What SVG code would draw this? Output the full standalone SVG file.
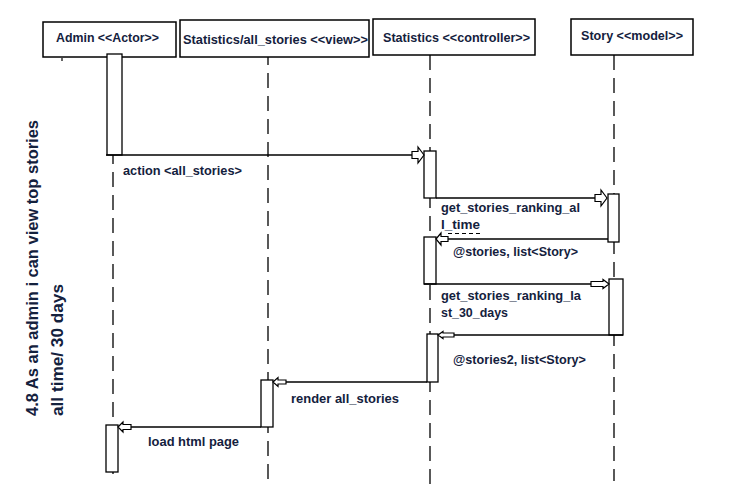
<svg xmlns="http://www.w3.org/2000/svg" width="755" height="501" viewBox="0 0 755 501">
<style>
.box{fill:#fff;stroke:#000;stroke-width:1.5}
.act{fill:#fff;stroke:#000;stroke-width:1.3}
.life{stroke:#000;stroke-width:1.3;stroke-dasharray:15 8;fill:none}
.msg{stroke:#000;stroke-width:1.3;fill:none}
.ah{fill:#fff;stroke:#000;stroke-width:1.2;stroke-linejoin:miter}
.t{font-family:"Liberation Sans",Arial,sans-serif;font-weight:bold;font-size:13px;fill:#14213d}
.title{font-family:"Liberation Sans",Arial,sans-serif;font-weight:bold;font-size:16.5px;fill:#14213d}
</style>
<rect width="755" height="501" fill="#fff"/>

<g id="title">
<text class="title" transform="translate(38,416) rotate(-90)" textLength="296" lengthAdjust="spacingAndGlyphs">4.8 As an admin i can view top stories</text>
<text class="title" transform="translate(63,416) rotate(-90)" textLength="132" lengthAdjust="spacingAndGlyphs">all time/ 30 days</text>
</g>

<g id="lifelines">
<line class="life" x1="113" y1="57" x2="113" y2="474"/>
<line class="life" x1="268" y1="57" x2="268" y2="486" stroke-dashoffset="7"/>
<line class="life" x1="430" y1="55" x2="430" y2="487"/>
<line class="life" x1="614" y1="55" x2="614" y2="481"/>
<line stroke="#000" stroke-width="1.2" x1="62" y1="58" x2="62" y2="61"/>
</g>

<g id="admin">
<rect class="box" x="43" y="22" width="133" height="35"/>
<text class="t" x="56" y="42" textLength="103" lengthAdjust="spacingAndGlyphs">Admin &lt;&lt;Actor&gt;&gt;</text>
<rect class="act" x="107" y="54" width="15" height="101"/>
<rect class="act" x="106" y="425" width="12" height="47"/>
</g>

<g id="view">
<rect class="box" x="180" y="20" width="189" height="37"/>
<text class="t" x="183" y="44" textLength="185" lengthAdjust="spacingAndGlyphs">Statistics/all_stories &lt;&lt;view&gt;&gt;</text>
<rect class="act" x="261" y="380" width="12" height="47"/>
</g>

<g id="controller">
<rect class="box" x="373" y="19" width="162" height="36"/>
<text class="t" x="383" y="42" textLength="147" lengthAdjust="spacingAndGlyphs">Statistics &lt;&lt;controller&gt;&gt;</text>
<rect class="act" x="424" y="151" width="12" height="47"/>
<rect class="act" x="424" y="237" width="12" height="47"/>
<rect class="act" x="427" y="334" width="11" height="48"/>
</g>

<g id="story">
<rect class="box" x="571" y="19" width="122" height="36"/>
<text class="t" x="581" y="40" textLength="102" lengthAdjust="spacingAndGlyphs">Story &lt;&lt;model&gt;&gt;</text>
<rect class="act" x="608" y="194" width="11" height="48"/>
<rect class="act" x="609" y="279" width="14" height="56"/>
</g>

<g id="connectors">
<line class="msg" x1="106" y1="155" x2="424" y2="155"/>
<path class="ah" d="M424,155 L418,147 L418,151.5 L412,151.5 L412,158.5 L418,158.5 L418,163 Z"/>
<text class="t" x="123" y="175" textLength="119" lengthAdjust="spacingAndGlyphs">action &lt;all_stories&gt;</text>

<line class="msg" x1="436" y1="198" x2="607" y2="198"/>
<path class="ah" d="M607,198 L601,190 L601,194.5 L595,194.5 L595,201.5 L601,201.5 L601,206 Z"/>
<text class="t" x="441" y="212" textLength="139" lengthAdjust="spacingAndGlyphs">get_stories_ranking_al</text>
<text class="t" x="441" y="229" textLength="39" lengthAdjust="spacingAndGlyphs">l_time</text>
<line stroke="#000" stroke-width="1" stroke-dasharray="4 3" x1="448" y1="233.5" x2="481" y2="233.5"/>

<line class="msg" x1="608" y1="239" x2="436" y2="239"/>
<path class="ah" d="M436,239 L441,233 L441,236.5 L448,236.5 L448,241.5 L441,241.5 L441,245 Z"/>
<text class="t" x="453" y="256" textLength="125" lengthAdjust="spacingAndGlyphs">@stories, list&lt;Story&gt;</text>

<line class="msg" x1="424" y1="284" x2="609" y2="284"/>
<path class="ah" d="M609,284 L603,279.5 L603,281.5 L591,281.5 L591,286.5 L603,286.5 L603,288.5 Z"/>
<text class="t" x="441" y="300" textLength="140" lengthAdjust="spacingAndGlyphs">get_stories_ranking_la</text>
<text class="t" x="441" y="317" textLength="67" lengthAdjust="spacingAndGlyphs">st_30_days</text>

<line class="msg" x1="623" y1="335" x2="438" y2="335"/>
<path class="ah" d="M438,335 L443,331.5 L443,333 L454,333 L454,337 L443,337 L443,338.5 Z"/>
<text class="t" x="453" y="364" textLength="133" lengthAdjust="spacingAndGlyphs">@stories2, list&lt;Story&gt;</text>

<line class="msg" x1="427" y1="382" x2="273" y2="382"/>
<path class="ah" d="M273,382 L278,377.5 L278,380 L286,380 L286,384 L278,384 L278,386.5 Z"/>
<text class="t" x="291" y="403" textLength="108" lengthAdjust="spacingAndGlyphs">render all_stories</text>

<line class="msg" x1="261" y1="427" x2="118" y2="427"/>
<path class="ah" d="M118,427 L123,422 L123,424.5 L131,424.5 L131,429.5 L123,429.5 L123,432 Z"/>
<text class="t" x="148" y="446" textLength="91" lengthAdjust="spacingAndGlyphs">load html page</text>
</g>
</svg>
